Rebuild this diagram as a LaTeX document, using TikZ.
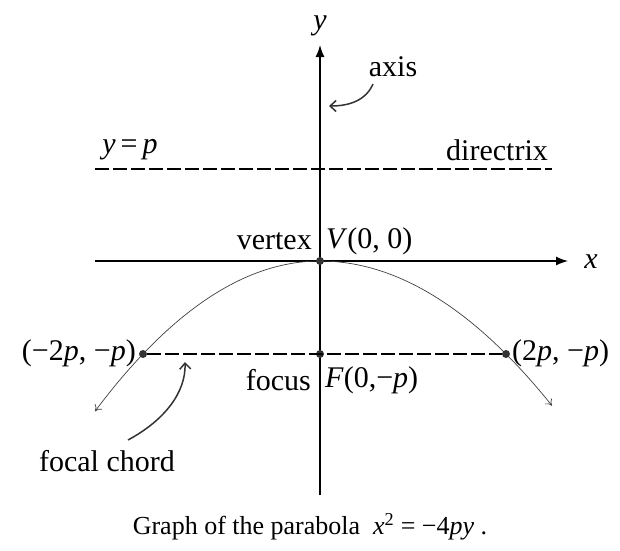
\documentclass[tikz,border=0pt]{standalone}
\usepackage{fontspec}
\setmainfont{Liberation Serif}
\usetikzlibrary{arrows.meta}
\begin{document}
\begin{tikzpicture}[x=1pt,y=-1pt,
  lbl/.style={inner sep=1pt,font=\fontsize{30}{34}\selectfont},
  caplbl/.style={inner sep=1pt,font=\fontsize{26}{30}\selectfont},
  axisline/.style={line width=1.3pt,-{Latex[length=12pt,width=9pt]}},
  dashline/.style={line width=1.1pt,dash pattern=on 14pt off 4pt},
  curve/.style={line width=0.7pt,black!75},
  pointer/.style={line width=1.5pt,black!80,-{Straight Barb[length=6pt,width=11pt]}},
  dot/.style={circle,fill=black!80,inner sep=0pt,minimum size=8pt}]
\useasboundingbox (0,0) rectangle (620,550);
% axes
\coordinate (xs) at (95,261);
\coordinate (xe) at (568,261);
\coordinate (ys) at (320,495);
\coordinate (ye) at (320,45);
\draw[axisline] (xs) -- (xe);
\draw[axisline] (ys) -- (ye);
\node[lbl] (ylab) at (320,26) {\textit{y}};
\node[lbl] (xlab) at (591,262) {\textit{x}};
% directrix
\coordinate (ds) at (95,169);
\coordinate (de) at (552,169);
\draw[dashline] (ds) -- (de);
\node[lbl] (yp) at (130,150) {\textit{y}\,=\,\textit{p}};
\node[lbl] (dir) at (497,150) {directrix};
% parabola
\draw[curve,-{To[length=6pt,width=9pt]}] plot[domain=0:-225,samples=60,smooth] ({320+\x},{261+93*(\x/177)*(\x/177)});
\draw[curve,-{To[length=6pt,width=9pt]}] plot[domain=0:232,samples=60,smooth] ({320+\x},{261+93*(\x/186)*(\x/186)});
% focal chord
\node[dot] (L) at (143,354) {};
\node[dot] (R) at (506,354) {};
\node[dot] (F) at (320,354) {};
\node[dot] (V) at (320,261) {};
\draw[dashline] (L) -- (R);
% labels
\node[lbl,anchor=east] (vtx) at (313,241) {vertex};
\node[lbl,anchor=west] (vlab) at (325,241) {\textit{V}(0, 0)};
\node[lbl,anchor=east] (Llab) at (137,353) {(−2\textit{p}, −\textit{p})};
\node[lbl,anchor=west] (Rlab) at (511,353) {(2\textit{p}, −\textit{p})};
\node[lbl,anchor=east] (foc) at (312,380) {focus};
\node[lbl,anchor=west] (flab) at (324,380) {\textit{F}(0,−\textit{p})};
\node[lbl] (axl) at (393,67) {axis};
\node[lbl] (fc) at (107,461) {focal chord};
\coordinate (axs) at (373,84);
\coordinate (axa) at (329,106);
\coordinate (fcs) at (128,440);
\coordinate (fca) at (185,362);
\draw[pointer] (axs) .. controls (366,100) and (350,106) .. (axa);
\draw[pointer] (fcs) .. controls (165,420) and (186,392) .. (fca);
% caption
\node[caplbl] (cap) at (310,527) {Graph of the parabola \ \textit{x}\textsuperscript{2} = −4\textit{py} .};
\end{tikzpicture}
\end{document}
